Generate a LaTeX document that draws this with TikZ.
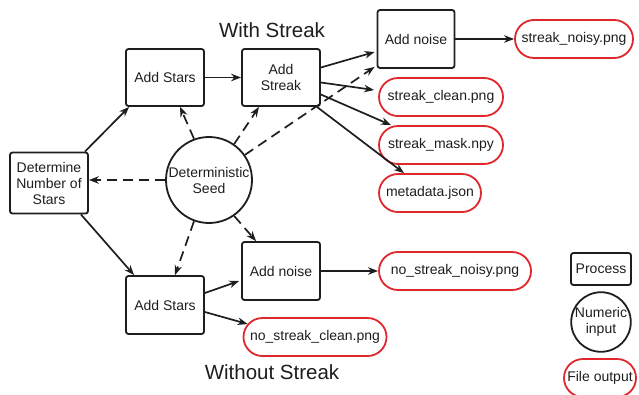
\documentclass[tikz,border=0pt]{standalone}
\usepackage{fontspec}
\setmainfont{Liberation Sans}
\usetikzlibrary{arrows.meta,shapes.misc,calc}
\definecolor{ink}{HTML}{1E1E1E}
\definecolor{fred}{HTML}{E0282C}
\begin{document}
\begin{tikzpicture}[x=1pt,y=-1pt,
  every node/.style={text=ink,font=\fontsize{14}{16}\selectfont},
  proc/.style={draw=ink,line width=1.8pt,rounded corners=2.5pt,minimum width=78pt,minimum height=57pt,align=center,inner sep=2pt},
  fileout/.style={draw=fred,line width=1.8pt,rounded rectangle,minimum height=38pt,inner xsep=2pt},
  seedc/.style={draw=ink,line width=1.8pt,circle,minimum size=86pt,inner sep=0pt,align=center},
  arr/.style={draw=ink,-{Stealth[length=10pt,width=7.5pt]},line width=1.7pt},
  dsh/.style={arr,dash pattern=on 10pt off 6pt},
  ttl/.style={font=\fontsize{20.5}{24}\selectfont}]
\useasboundingbox (0,0) rectangle (639,394);
% nodes
\node[proc,minimum height=61pt] (det) at (49,183) {Determine\\Number of\\Stars};
\node[proc] (as1) at (165,77.5) {Add Stars};
\node[proc] (st) at (281,77.5) {Add\\Streak};
\node[proc,minimum height=58pt,minimum width=77pt] (an1) at (416,39) {Add noise};
\node[fileout,minimum width=122pt] (sn) at (574,39) {streak\_noisy.png};
\node[fileout,minimum width=128pt] (sc) at (441,97) {streak\_clean.png};
\node[fileout,minimum width=128pt] (sm) at (441,145) {streak\_mask.npy};
\node[fileout,minimum width=106pt] (md) at (430,193) {metadata.json};
\node[seedc] (seed) at (209,180) {Deterministic\\Seed};
\node[proc,minimum height=58pt] (as2) at (165,305) {Add Stars};
\node[proc,minimum height=58pt] (an2) at (281,271) {Add noise};
\node[fileout,minimum width=156pt] (nn) at (455,271) {no\_streak\_noisy.png};
\node[fileout,minimum width=147pt] (nc) at (315,337) {no\_streak\_clean.png};
\node[ttl] (t1) at (272,30) {With Streak};
\node[ttl] (t2) at (272,372) {Without Streak};
% legend
\node[proc,minimum width=60pt,minimum height=32pt] (lp) at (601,269) {Process};
\node[seedc,minimum size=58pt] (ln) at (601,322) {Numeric\\input};
\node[fileout,minimum width=76pt] (lf) at (600,378) {File output};
% solid connectors
\draw[arr] ($(det.north east)+(-4,0)$) -- ($(as1.south west)+(4,0)$);
\draw[arr] ($(det.south east)+(-8,0)$) -- ($(as2.north west)+(9,0)$);
\draw[arr] (as1) -- (st);
\draw[arr] ($(st.east)+(0,-10)$) -- ($(an1.west)+(-2,13)$);
\draw[arr] ($(st.east)+(0,5)$) -- ($(sc.west)+(-4,-7)$);
\draw[arr] ($(st.east)+(0,17)$) -- ($(sm.north)+(-50,0)$);
\draw[arr] ($(st.south east)+(-4,0)$) -- ($(md.north)+(-26,0)$);
\draw[arr] (an1) -- (sn);
\draw[arr] ($(as2.east)+(0,-12)$) -- ($(an2.west)+(-2,10)$);
\draw[arr] ($(as2.east)+(0,7)$) -- ($(nc.west)+(5,-13)$);
\draw[arr] (an2) -- (nn);
% dashed connectors
\draw[dsh] (seed.west) -- (det.east |- seed.west);
\draw[dsh] (seed.110) -- ($(as1.south)+(15,0)$);
\draw[dsh] (seed.55) -- ($(st.south)+(-22,0)$);
\draw[dsh] (seed.35) -- ($(an1.south west)+(-2,-2)$);
\draw[dsh] (seed.250) -- ($(as2.north)+(10,0)$);
\draw[dsh] (seed.305) -- ($(an2.north west)+(15,0)$);
\end{tikzpicture}
\end{document}
